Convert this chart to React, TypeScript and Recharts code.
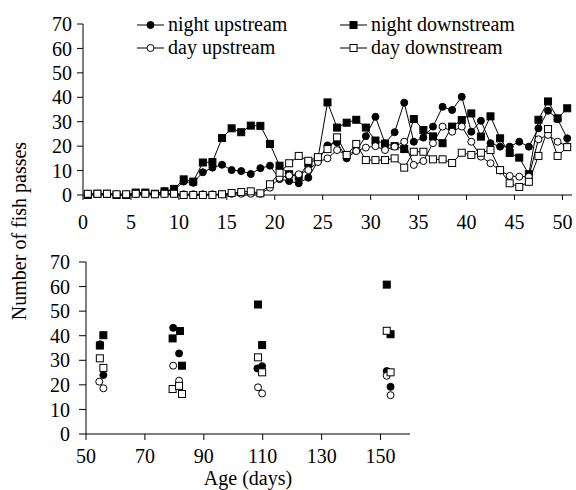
import React from 'react';
import { LineChart, Line, ScatterChart, Scatter, XAxis, YAxis } from 'recharts';

// top panel: fish passes per day (points sit mid-day)
const days = [
  0.5, 1.5, 2.5, 3.5, 4.5, 5.5, 6.5, 7.5, 8.5, 9.5,
  10.5, 11.5, 12.5, 13.5, 14.5, 15.5, 16.5, 17.5, 18.5, 19.5,
  20.5, 21.5, 22.5, 23.5, 24.5, 25.5, 26.5, 27.5, 28.5, 29.5,
  30.5, 31.5, 32.5, 33.5, 34.5, 35.5, 36.5, 37.5, 38.5, 39.5,
  40.5, 41.5, 42.5, 43.5, 44.5, 45.5, 46.5, 47.5, 48.5, 49.5, 50.5,
];
const nightUp = [
  0, 0.5, 0.5, 0, 0, 0.5, 0.5, 0.5, 1.5, 2,
  5.5, 5, 9.3, 11.2, 12.4, 10.2, 9.8, 8.6, 11, 12,
  6.5, 5.7, 4.8, 7.1, 13.8, 20.3, 21.5, 15, 18.1, 24.1,
  32, 21.2, 25.7, 37.8, 21.8, 23.5, 28, 36.1, 34.8, 40.2,
  25.9, 30.4, 21.2, 19.8, 19.8, 21.8, 19.8, 27.3, 34.5, 31, 23.2,
];
const nightDown = [
  0, 0.5, 0.5, 0, 0, 1, 1, 0.5, 1.5, 2.5,
  6.4, 5.5, 13.3, 13.5, 23.3, 27.3, 25.7, 28.4, 28.3, 20.9,
  12, 8.5, 7.5, 13, 14.8, 37.9, 27.6, 29.6, 30.8, 27.6,
  22.3, 21, 20, 18.8, 31.1, 26.6, 24, 21.2, 28, 30.7,
  33.4, 23.9, 32.2, 23.2, 17.2, 15.3, 8.5, 30.8, 38.3, 31.4, 35.5,
];
const dayUp = [
  0.5, 0.5, 0.3, 0.3, 0.3, 0.3, 0.5, 0.3, 0.5, 0.5,
  0.3, 0.3, 0.3, 0.3, 0.3, 0.5, 0.5, 0.5, 0.5, 3,
  7, 8, 8.5, 10.2, 13.5, 15, 18.4, 16.4, 18, 19.4,
  20, 18.4, 19.8, 21.8, 12.3, 13.9, 21.2, 28, 25.9, 28,
  21.8, 15.7, 13, 10, 7.8, 7.5, 7.5, 22.8, 24.6, 21.8, 20,
];
const dayDown = [
  0.5, 0.5, 0.5, 0.3, 0.3, 0.5, 0.5, 0.3, 0.5, 0.5,
  0, 0, 0, 0, 0.3, 0.8, 1.2, 1.5, 0.7, 4.4,
  9.1, 13, 16, 14, 15.5, 18.8, 23.6, 16.4, 20.9, 14.3,
  14.3, 14.3, 15, 11.2, 17.7, 17.7, 14.6, 14.6, 13.1, 17.3,
  16.4, 17.3, 18.4, 10.2, 4.8, 3.3, 5.4, 16, 27, 16, 19.6,
];
const dayTicks = [0, 5, 10, 15, 20, 25, 30, 35, 40, 45, 50];
const countTicks = [0, 10, 20, 30, 40, 50, 60, 70];

// bottom panel: passes vs age
const nightUpAge = [54.8, 55.9, 79.6, 81.6, 108.2, 109.8, 152.1, 153.4];
const nightUpVal = [36.5, 24, 43.2, 32.8, 26.7, 27.6, 25.6, 19.2];
const nightDownAge = [54.7, 55.9, 79.4, 81.9, 82.6, 108.4, 109.8, 152.1, 153.4];
const nightDownVal = [36, 40.2, 38.9, 41.9, 27.8, 52.7, 36.2, 60.8, 40.6];
const dayUpAge = [54.5, 55.9, 79.6, 81.6, 108.4, 109.8, 152.1, 153.4];
const dayUpVal = [21.3, 18.6, 27.8, 21.7, 19, 16.5, 23.7, 15.8];
const dayDownAge = [54.7, 55.9, 79.4, 81.6, 82.6, 108.4, 109.8, 152.1, 153.4];
const dayDownVal = [30.8, 26.9, 18.3, 19.6, 16.3, 31.2, 25.1, 42, 25.1];
const ageTicks = [50, 70, 90, 110, 130, 150];

const FONT = '"Liberation Serif", "Times New Roman", serif';
const tickStyle = { fill: '#000', fontSize: 20, fontFamily: FONT };

const series = [
  { key: 'nightUp', name: 'night upstream', shape: 'circle', fill: '#000' },
  { key: 'nightDown', name: 'night downstream', shape: 'square', fill: '#000' },
  { key: 'dayUp', name: 'day upstream', shape: 'circle', fill: '#fff' },
  { key: 'dayDown', name: 'day downstream', shape: 'square', fill: '#fff' },
];

function Marker({ cx, cy, shape, fill }: any) {
  if (cx == null || cy == null) return null;
  if (shape === 'square') {
    return <rect x={cx - 3.5} y={cy - 3.5} width={7} height={7} fill={fill} stroke="#000" strokeWidth={1} />;
  }
  return <circle cx={cx} cy={cy} r={3.5} fill={fill} stroke="#000" strokeWidth={1} />;
}

const dotFor = (shape: string, fill: string) => (p: any) => (
  <Marker key={`d-${p.index}`} cx={p.cx} cy={p.cy} shape={shape} fill={fill} />
);

// legend sits inside the top plot, two rows x two columns
function LegendBox() {
  return (
    <div
      style={{
        position: 'absolute', left: 137, top: 13, display: 'grid', gridTemplateColumns: '203px auto',
        fontFamily: FONT, fontSize: 20, lineHeight: '23px', color: '#000',
      }}
    >
      {series.map(s => (
        <div key={s.key} style={{ display: 'flex', alignItems: 'center', whiteSpace: 'nowrap' }}>
          <svg width={27} height={12} style={{ marginRight: 4 }}>
            <line x1={0} y1={6} x2={27} y2={6} stroke="#000" strokeWidth={1} />
            <Marker cx={13.5} cy={6} shape={s.shape} fill={s.fill} />
          </svg>
          <span>{s.name}</span>
        </div>
      ))}
    </div>
  );
}

export default function App() {
  const lineData = days.map((d, i) => ({
    day: d,
    nightUp: nightUp[i],
    nightDown: nightDown[i],
    dayUp: dayUp[i],
    dayDown: dayDown[i],
  }));
  const pts = (ages: number[], vals: number[]) => ages.map((a, i) => ({ age: a, v: vals[i] }));
  const scatterSets = [
    { ...series[0], data: pts(nightUpAge, nightUpVal) },
    { ...series[1], data: pts(nightDownAge, nightDownVal) },
    { ...series[2], data: pts(dayUpAge, dayUpVal) },
    { ...series[3], data: pts(dayDownAge, dayDownVal) },
  ];

  return (
    <div style={{ position: 'absolute', left: 0, top: 0, width: 576, height: 490, background: '#fff', fontFamily: FONT }}>
      {/* Top: daily passes */}
      <div style={{ position: 'absolute', left: 0, top: 0 }}>
        <LineChart width={576} height={235} data={lineData} margin={{ top: 24, right: 4, left: 0, bottom: 0 }}>
          <XAxis
            dataKey="day" type="number" domain={[0, 51]} ticks={dayTicks} interval={0}
            stroke="#000" tick={tickStyle} tickSize={5} tickMargin={15} height={40}
          />
          <YAxis
            type="number" domain={[0, 70]} ticks={countTicks} interval={0}
            stroke="#000" tick={tickStyle} tickSize={6} tickMargin={5} width={83}
          />
          {series.map(s => (
            <Line
              key={s.key} dataKey={s.key} type="linear" stroke="#000" strokeWidth={1}
              dot={dotFor(s.shape, s.fill)} activeDot={false} isAnimationActive={false}
            />
          ))}
        </LineChart>
      </div>
      <LegendBox />

      {/* Bottom: passes vs age */}
      <div style={{ position: 'absolute', left: 0, top: 240 }}>
        <ScatterChart width={576} height={250} margin={{ top: 22, right: 166, left: 0, bottom: 0 }}>
          <XAxis
            dataKey="age" type="number" domain={[50, 160]} ticks={ageTicks} interval={0}
            stroke="#000" tick={tickStyle} tickSize={6} tickMargin={9} height={56}
            label={{ value: 'Age (days)', position: 'insideBottom', offset: 5, fill: '#000', fontSize: 20, fontFamily: FONT }}
          />
          <YAxis
            dataKey="v" type="number" domain={[0, 70]} ticks={countTicks} interval={0}
            stroke="#000" tick={tickStyle} tickSize={7} tickMargin={9} width={86}
          />
          {scatterSets.map(s => (
            <Scatter
              key={s.key} name={s.name} data={s.data} isAnimationActive={false}
              shape={(p: any) => <Marker cx={p.cx} cy={p.cy} shape={s.shape} fill={s.fill} />}
            />
          ))}
        </ScatterChart>
      </div>

      <div
        style={{
          position: 'absolute', left: -81, top: 219, width: 200, height: 24, lineHeight: '24px',
          fontSize: 20, textAlign: 'center', transform: 'rotate(-90deg)', whiteSpace: 'nowrap', color: '#000',
        }}
      >
        Number of fish passes
      </div>
    </div>
  );
}
